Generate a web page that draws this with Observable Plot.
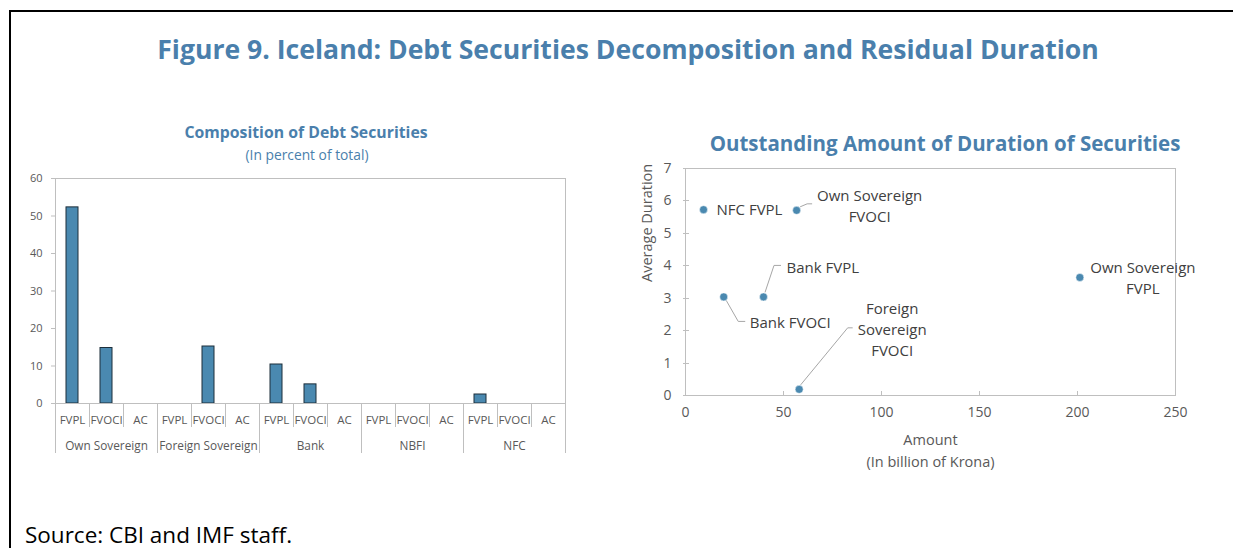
<!DOCTYPE html>
<html><head><meta charset="utf-8">
<script src="https://cdn.jsdelivr.net/npm/d3@7"></script>
<script src="https://cdn.jsdelivr.net/npm/@observablehq/plot@0.6"></script>
<style>
body{margin:0;width:1233px;height:548px;position:relative;overflow:hidden;background:#fff;font-family:"Open Sans",sans-serif;}
.box{position:absolute;left:9px;top:10px;right:-10px;bottom:-10px;border-top:2px solid #000;border-left:2px solid #000;}
.t{position:absolute;white-space:nowrap;transform:translate(-50%,-50%);color:#4a7fac;line-height:1;}
#left{position:absolute;left:0;top:165px;}
#right{position:absolute;left:620px;top:150px;}
#src{position:absolute;left:25px;top:524px;font-size:22.5px;color:#000;white-space:nowrap;line-height:1;}
</style></head><body>
<div class="box"></div>
<div class="t" style="left:628px;top:49px;font-size:26.6px;font-weight:700">Figure 9. Iceland: Debt Securities Decomposition and Residual Duration</div>
<div class="t" style="left:306px;top:133px;font-size:15.8px;font-weight:700">Composition of Debt Securities</div>
<div class="t" style="left:307px;top:155px;font-size:13.8px;">(In percent of total)</div>
<div class="t" style="left:945px;top:143px;font-size:20.5px;font-weight:700">Outstanding Amount of Duration of Securities</div>
<div id="left"></div>
<div id="right"></div>
<div id="src">Source: CBI and IMF staff.</div>
<script>
// ---- Left chart data ----
const groups = ["Own Sovereign", "Foreign Sovereign", "Bank", "NBFI", "NFC"];
const types = ["FVPL", "FVOCI", "AC"];
const ownSovereign = [52.3, 14.8, 0];
const foreignSovereign = [0, 15.2, 0];
const bank = [10.4, 5.1, 0];
const nbfi = [0, 0, 0];
const nfc = [2.4, 0, 0];
const yTicksLeft = [0, 10, 20, 30, 40, 50, 60];

// ---- Right chart data ----
const pointNames = ["NFC FVPL", "Own Sovereign FVOCI", "Bank FVOCI", "Bank FVPL", "Foreign Sovereign FVOCI", "Own Sovereign FVPL"];
const amount = [9.2, 56.7, 19.5, 39.8, 58.0, 201.2];
const duration = [5.73, 5.71, 3.04, 3.04, 0.19, 3.64];
const xTicksRight = [0, 50, 100, 150, 200, 250];
const yTicksRight = [0, 1, 2, 3, 4, 5, 6, 7];

// label layout (pixel offsets, styling only)
const labelLayout = [
  {lines: "NFC FVPL", anchor: "start", dx: 13, dy: -1, leader: null},
  {lines: "Own Sovereign\nFVOCI", anchor: "middle", dx: 73, dy: -6, leader: [[4,-3],[11,-6],[16,-6]]},
  {lines: "Bank FVOCI", anchor: "start", dx: 26, dy: 24, leader: [[3,4],[15,25],[22,25]]},
  {lines: "Bank FVPL", anchor: "start", dx: 23, dy: -31, leader: [[2,-4],[11,-31],[18,-31]]},
  {lines: "Foreign\nSovereign\nFVOCI", anchor: "middle", dx: 93, dy: -61, leader: [[2,-4],[49,-61],[54,-61]]},
  {lines: "Own Sovereign\nFVPL", anchor: "middle", dx: 63, dy: -0.5, leader: null}
];

const seriesByGroup = [ownSovereign, foreignSovereign, bank, nbfi, nfc];
const slots = [];
groups.forEach((g, gi) => types.forEach((t, ti) => slots.push({group: g, type: t, idx: gi * 3 + ti, value: seriesByGroup[gi][ti]})));

const grey = "#bfbfbf";

function separators(list) {
  return (index, scales) => {
    const g = d3.create("svg:g").attr("stroke", grey).attr("stroke-width", 1);
    const y0 = scales.y(0);
    for (const s of list) {
      const x = Math.round(scales.x(s.at)) + 0.5;
      g.append("line").attr("x1", x).attr("x2", x).attr("y1", y0).attr("y2", y0 + s.len);
    }
    return g.node();
  };
}

const sepList = [];
for (let i = 0; i <= 15; i++) sepList.push({at: i, len: i % 3 === 0 ? 50 : 24});

const left = Plot.plot({
  width: 600, height: 300,
  marginLeft: 55, marginRight: 35, marginTop: 13, marginBottom: 62,
  style: {fontFamily: "Open Sans", background: "transparent", color: "#595959"},
  x: {domain: [0, 15], axis: null},
  y: {domain: [0, 60], axis: null},
  marks: [
    Plot.frame({stroke: grey}),
    Plot.axisY({ticks: yTicksLeft, tickSize: 4, tickPadding: 9, fontSize: 11, stroke: grey, fill: "#595959", label: null}),
    Plot.rectY(slots.filter(d => d.value > 0), {x1: d => d.idx, x2: d => d.idx + 1, y: "value", insetLeft: 11, insetRight: 11, fill: "#4a89b0", stroke: "#1c2e3a", strokeWidth: 1}),
    Plot.ruleY([0], {stroke: grey}),
    separators(sepList),
    Plot.text(slots, {x: d => d.idx + 0.5, y: 0, text: "type", dy: 17, fontSize: 11.5, fill: "#595959"}),
    Plot.text(groups, {x: (d, i) => i * 3 + 1.5, y: 0, text: d => d, dy: 43, fontSize: 11.8, fill: "#595959"})
  ]
});
document.getElementById("left").appendChild(left);

const points = pointNames.map((n, i) => ({name: n, amount: amount[i], duration: duration[i], ...labelLayout[i]}));

function leaders(pts) {
  return (index, scales) => {
    const g = d3.create("svg:g").attr("stroke", "#a6a6a6").attr("fill", "none").attr("stroke-width", 1);
    for (const p of pts) {
      if (!p.leader) continue;
      const px = scales.x(p.amount), py = scales.y(p.duration);
      g.append("polyline").attr("points", p.leader.map(([dx, dy]) => `${px + dx},${py + dy}`).join(" "));
    }
    return g.node();
  };
}

function inwardTicks() {
  return (index, scales) => {
    const g = d3.create("svg:g").attr("stroke", grey);
    const y0 = scales.y(0), x0 = scales.x(0);
    for (const t of xTicksRight) {
      const x = Math.round(scales.x(t)) + 0.5;
      g.append("line").attr("x1", x).attr("x2", x).attr("y1", y0).attr("y2", y0 - 4);
    }
    for (const t of yTicksRight) {
      const y = Math.round(scales.y(t)) + 0.5;
      g.append("line").attr("x1", x0 - 2).attr("x2", x0 + 4).attr("y1", y).attr("y2", y);
    }
    return g.node();
  };
}

const right = Plot.plot({
  width: 613, height: 330,
  marginLeft: 65, marginRight: 58, marginTop: 18, marginBottom: 85,
  style: {fontFamily: "Open Sans", background: "transparent", color: "#595959"},
  x: {domain: [0, 250], axis: null},
  y: {domain: [0, 7], axis: null},
  marks: [
    Plot.frame({stroke: grey}),
    Plot.axisX({ticks: xTicksRight, tickFormat: d3.format("d"), tickSize: 0, tickPadding: 12, fontSize: 14, fill: "#595959", label: null}),
    Plot.axisY({ticks: yTicksRight, tickFormat: d3.format("d"), tickSize: 0, tickPadding: 14, fontSize: 14, fill: "#595959", label: null}),
    inwardTicks(),
    Plot.text(["Average Duration"], {frameAnchor: "left", rotate: -90, dx: -38, fontSize: 14.5, fill: "#595959"}),
    Plot.text(["Amount\n(In billion of Krona)"], {frameAnchor: "bottom", lineAnchor: "top", dy: 34, fontSize: 14.5, lineHeight: 1.5, fill: "#595959"}),
    leaders(points),
    Plot.dot(points, {x: "amount", y: "duration", r: 4, fill: "#4a89b0", stroke: "#fff", strokeWidth: 0.5}),
    ...points.map(p => Plot.text([p], {x: "amount", y: "duration", text: "lines", textAnchor: p.anchor, dx: p.dx, dy: p.dy, fontSize: 15, lineHeight: 1.4, fill: "#404040"}))
  ]
});
document.getElementById("right").appendChild(right);
</script>
</body></html>
